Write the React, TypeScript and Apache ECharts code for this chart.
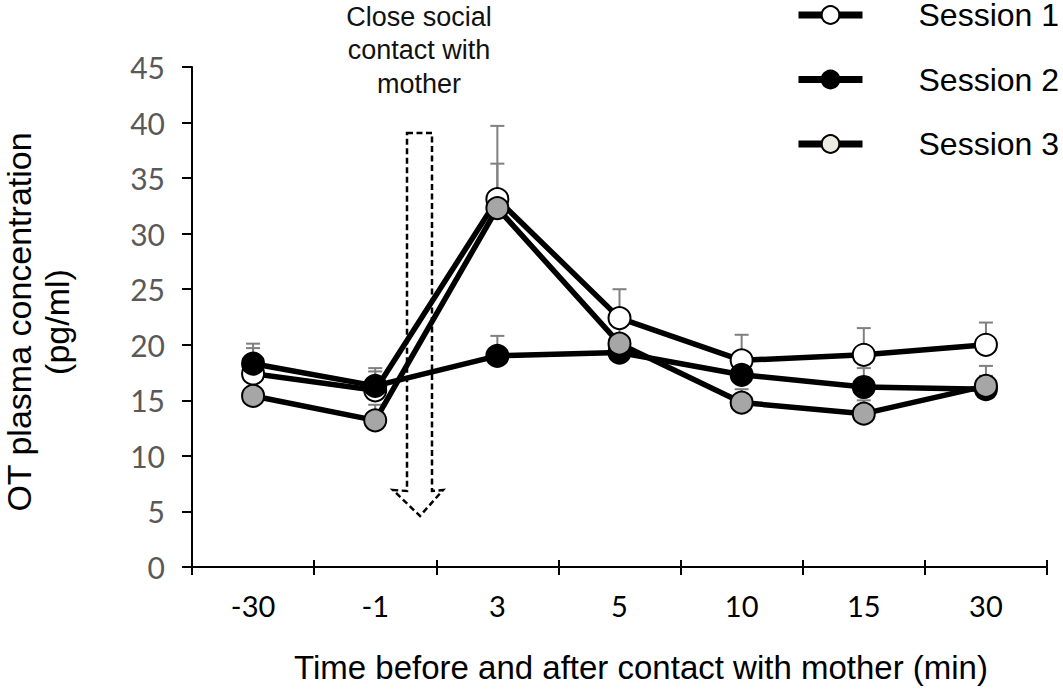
import React, { useEffect, useRef } from "react";
import * as echarts from "echarts";

const categories = ["-30", "-1", "3", "5", "10", "15", "30"];
const yTicks = { min: 0, max: 45, interval: 5 };

const session1 = [17.4, 15.9, 33.1, 22.4, 18.6, 19.1, 20.0];
const session2 = [18.3, 16.3, 19.0, 19.3, 17.3, 16.2, 16.0];
const session3 = [15.4, 13.2, 32.3, 20.1, 14.8, 13.8, 16.3];

const err1 = [2.3, 1.7, 6.6, 2.6, 2.3, 2.4, 2.0];
const err2 = [1.8, 1.6, 1.8, 1.2, 1.4, 1.7, 1.2];
const err3 = [1.2, 1.4, 4.0, 1.5, 1.2, 1.2, 1.8];

const seriesNames = ["Session 1", "Session 2", "Session 3"];
const seriesFills = ["#ffffff", "#000000", "#a6a6a6"];
const legendFills = ["#ffffff", "#000000", "#eeece1"];

const SANS = "'Liberation Sans', Arial, sans-serif";
const TICKFONT = "Lato, 'Liberation Sans', sans-serif";

export default function App() {
  const ref = useRef<HTMLDivElement>(null);

  useEffect(() => {
    if (!ref.current) return;
    const chart = echarts.init(ref.current, undefined, { renderer: "svg" });

    const values = [session1, session2, session3];
    const errs = [err1, err2, err3];

    const errorSeries: any[] = values.map((vals, si) => ({
      type: "custom",
      name: seriesNames[si] + " SEM",
      z: 1,
      silent: true,
      encode: { x: 0, y: 1 },
      data: vals.map((v, i) => [i, v, v + errs[si][i]]),
      renderItem: (params: any, api: any) => {
        const base = api.coord([api.value(0), api.value(1)]);
        const top = api.coord([api.value(0), api.value(2)]);
        const half = 7;
        const style = { stroke: "#7f7f7f", lineWidth: 2 };
        return {
          type: "group",
          children: [
            { type: "line", shape: { x1: base[0], y1: base[1], x2: top[0], y2: top[1] }, style },
            { type: "line", shape: { x1: top[0] - half, y1: top[1], x2: top[0] + half, y2: top[1] }, style },
          ],
        };
      },
    }));

    const lineSeries: any[] = values.map((vals, si) => ({
      type: "line",
      name: seriesNames[si],
      z: 2,
      data: vals,
      symbol: "circle",
      symbolSize: 22,
      lineStyle: { color: "#000", width: 5.5 },
      itemStyle: { color: seriesFills[si], borderColor: "#000", borderWidth: 2 },
    }));

    chart.setOption({
      animation: false,
      backgroundColor: "#ffffff",
      grid: { left: 192, right: 16, top: 67, bottom: 123, containLabel: false },
      legend: {
        orient: "vertical",
        left: 795,
        top: -1,
        padding: 0,
        itemWidth: 64,
        itemHeight: 22,
        itemGap: 32.5,
        selectedMode: false,
        textStyle: {
          fontFamily: SANS,
          fontSize: 32,
          lineHeight: 27,
          color: "#000",
          padding: [0, 0, 0, 51],
        },
        data: seriesNames.map((n, i) => ({
          name: n,
          itemStyle: { color: legendFills[i], borderColor: "#000", borderWidth: 2 },
          lineStyle: { color: "#000", width: 7 },
        })),
      },
      xAxis: [
        {
          type: "category",
          data: categories,
          boundaryGap: true,
          axisLine: { show: true, lineStyle: { color: "#000", width: 2 } },
          axisTick: { show: true, inside: false, length: 8, lineStyle: { color: "#000", width: 2 } },
          axisLabel: { color: "#000", fontFamily: TICKFONT, fontSize: 29, margin: 24 },
          splitLine: { show: false },
        },
        {
          type: "category",
          data: categories,
          position: "bottom",
          boundaryGap: true,
          axisLine: { show: false },
          axisTick: { show: true, inside: true, length: 7, lineStyle: { color: "#000", width: 2 } },
          axisLabel: { show: false },
          splitLine: { show: false },
        },
      ],
      yAxis: {
        type: "value",
        min: yTicks.min,
        max: yTicks.max,
        interval: yTicks.interval,
        axisLine: { show: true, lineStyle: { color: "#000", width: 2 } },
        axisTick: { show: true, inside: false, length: 10, lineStyle: { color: "#000", width: 2 } },
        axisLabel: { color: "#595959", fontFamily: TICKFONT, fontSize: 30, margin: 27 },
        splitLine: { show: false },
      },
      graphic: [
        {
          type: "text",
          x: 641,
          y: 667,
          style: {
            text: "Time before and after contact with mother (min)",
            fontFamily: SANS,
            fontSize: 33,
            fill: "#000",
            align: "center",
            verticalAlign: "middle",
          },
        },
        {
          type: "text",
          x: 38,
          y: 322,
          rotation: Math.PI / 2,
          style: {
            text: "OT plasma concentration\n(pg/ml)",
            fontFamily: SANS,
            fontSize: 34,
            lineHeight: 38,
            fill: "#000",
            align: "center",
            verticalAlign: "middle",
          },
        },
        {
          type: "text",
          x: 419,
          y: 50,
          style: {
            text: "Close social\ncontact with\nmother",
            fontFamily: SANS,
            fontSize: 27,
            lineHeight: 33.5,
            fill: "#111",
            align: "center",
            verticalAlign: "middle",
          },
        },
        {
          type: "polygon",
          shape: {
            points: [
              [407, 133],
              [432, 133],
              [432, 491],
              [443, 490],
              [420, 516],
              [393, 490],
              [407, 491],
            ],
          },
          style: { fill: "none", stroke: "#000", lineWidth: 2.5, lineDash: [6, 3.5] },
          z: 0,
        },
      ],
      series: [...errorSeries, ...lineSeries],
    });

    return () => chart.dispose();
  }, []);

  return (
    <div
      ref={ref}
      style={{ position: "fixed", left: 0, top: 0, width: 1063, height: 690, background: "#fff" }}
    />
  );
}
